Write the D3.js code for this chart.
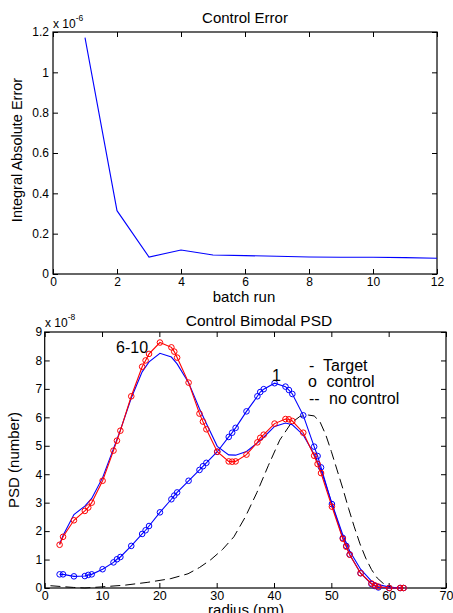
<!DOCTYPE html>
<html>
<head>
<meta charset="utf-8">
<script src="https://cdn.jsdelivr.net/npm/d3@7"></script>
<style>
  html,body{margin:0;padding:0;background:#fff;}
  svg{display:block;font-family:"Liberation Sans",Arial,sans-serif;}
  .ax text{font-size:12px;fill:#000;}
  .ax line{stroke:#000;}
</style>
</head>
<body>
<div id="chart"></div>
<script>
// top panel: integral absolute error per batch run (x 1e-6)
const batchRuns=[1,2,3,4,5,6,7,8,9,10,11,12];
const iaeValues=[1.172,0.314,0.084,0.119,0.094,0.091,0.088,0.084,0.083,0.083,0.081,0.078];

// bottom panel: PSD (x 1e-8) vs radius (nm)
const markerRadius=[2.6,3.2,5.1,7.0,7.6,8.2,10.1,12.0,12.6,13.2,15.1,17.0,17.6,18.2,20.1,22.1,22.6,23.1,25.1,27.0,27.6,28.2,30.1,32.1,32.7,33.3,35.2,37.1,37.6,38.2,40.1,42.0,42.6,43.2,45.1,47.0,47.6,48.2,50.1,52.0,52.6,53.2,55.1,57.0,57.6,58.2,60.1,62.0,62.6];
const controlRuns610=[1.52,1.80,2.38,2.71,2.83,3.0,3.77,4.83,5.18,5.53,6.74,7.78,8.0,8.23,8.63,8.46,8.31,8.1,7.22,6.13,5.85,5.58,4.79,4.45,4.44,4.45,4.69,5.12,5.28,5.39,5.78,5.94,5.93,5.87,5.46,4.65,4.36,4.04,2.86,1.73,1.45,1.17,0.52,0.16,0.09,0.05,0,0,0];
const controlRun1=[0.48,0.48,0.41,0.42,0.46,0.48,0.66,0.90,1.01,1.09,1.48,1.90,2.03,2.18,2.66,3.12,3.25,3.36,3.77,4.15,4.28,4.40,4.79,5.31,5.46,5.63,6.21,6.74,6.89,6.99,7.20,7.08,6.96,6.82,6.07,4.97,4.64,4.24,2.95,1.76,1.48,1.18,0.52,0.14,0.07,0.02,0,0,0];
const targetRadius=[2.6,3.2,5.1,7.0,8.2,10.1,12.0,13.2,15.1,17.0,18.2,20.1,22.1,23.1,25.1,27.0,28.2,30.1,32.1,33.3,35.2,37.1,38.2,40.1,42.0,43.2,45.1,47.0,48.2,50.1,52.0,53.2,55.1,57.0,58.2,60.1,62.0];
const targetPSD=[1.55,1.85,2.58,2.88,3.15,3.88,4.9,5.55,6.68,7.6,7.95,8.25,8.12,7.88,7.22,6.3,5.78,4.98,4.68,4.67,4.8,5.1,5.3,5.68,5.8,5.74,5.38,4.7,4.15,2.97,1.87,1.3,0.66,0.24,0.12,0.03,0];
const noCtrlRadius=[1,3,5,7,10,14,18,22,25,27,29,31,33,35,37,39,41,43,44.5,46,47,48,49,50,51,52,53,54,55,56,57,58,59,60,61];
const noCtrlPSD=[0.08,0.05,0.02,0,0.04,0.1,0.2,0.33,0.5,0.72,1.0,1.35,1.8,2.5,3.35,4.3,5.2,5.8,6.03,6.08,6.05,5.85,5.4,4.8,4.15,3.5,2.8,2.15,1.55,1.05,0.65,0.35,0.17,0.06,0];

const W=453,H=613;
const svg=d3.select('#chart').append('svg').attr('width',W).attr('height',H);

function frame(g,x,y,w,h,o){
  g.append('g').attr('class','ax').attr('transform',`translate(0,${h})`)
    .call(d3.axisBottom(x).tickValues(o.xTicks).tickSize(-5).tickPadding(o.xPad).tickFormat(o.xFmt))
    .call(a=>a.select('.domain').remove()).selectAll('text').style('font-size',o.xFont+'px');
  g.append('g').attr('class','ax')
    .call(d3.axisTop(x).tickValues(o.xTicks).tickSize(-5).tickFormat(''))
    .call(a=>a.select('.domain').remove());
  g.append('g').attr('class','ax')
    .call(d3.axisLeft(y).tickValues(o.yTicks).tickSize(-5).tickPadding(o.yPad).tickFormat(o.yFmt))
    .call(a=>a.select('.domain').remove());
  g.append('g').attr('class','ax').attr('transform',`translate(${w},0)`)
    .call(d3.axisRight(y).tickValues(o.yTicks).tickSize(-5).tickFormat(''))
    .call(a=>a.select('.domain').remove());
  g.append('rect').attr('width',w).attr('height',h).attr('fill','none').attr('stroke','#000').attr('stroke-width',1.2);
}

// ---- top panel ----
{
  const m={l:53,t:32},w=437-53,h=274-32;
  const g=svg.append('g').attr('transform',`translate(${m.l},${m.t})`);
  const x=d3.scaleLinear().domain([0,12]).range([0,w]);
  const y=d3.scaleLinear().domain([0,1.2]).range([h,0]);
  frame(g,x,y,w,h,{xTicks:d3.range(0,13,2),yTicks:[0,0.2,0.4,0.6,0.8,1,1.2],
    xFmt:d3.format('d'),yFmt:d=>d===0?'0':d3.format('.1~f')(d),xFont:12,xPad:3.5,yPad:4});
  const pts=batchRuns.map((b,i)=>[b,iaeValues[i]]);
  g.append('path').datum(pts).attr('fill','none').attr('stroke','#0000ff').attr('stroke-width',1.1)
    .attr('d',d3.line().x(d=>x(d[0])).y(d=>y(d[1])));
  svg.append('text').attr('x',245).attr('y',23).attr('text-anchor','middle').attr('font-size',15).text('Control Error');
  svg.append('text').attr('x',244).attr('y',301.5).attr('text-anchor','middle').attr('font-size',15).text('batch run');
  svg.append('text').attr('transform','translate(22,150) rotate(-90)').attr('text-anchor','middle').attr('font-size',14.5).text('Integral Absolute Error');
  const ex=svg.append('text').attr('x',53).attr('y',28).attr('font-size',12);
  ex.append('tspan').text('x 10');
  ex.append('tspan').attr('dy',-7).attr('font-size',8.5).text('-6');
}

// ---- bottom panel ----
{
  const m={l:44.7,t:332},w=446-44.7,h=588-332;
  const g=svg.append('g').attr('transform',`translate(${m.l},${m.t})`);
  const x=d3.scaleLinear().domain([0,70]).range([0,w]);
  const y=d3.scaleLinear().domain([0,9]).range([h,0]);
  frame(g,x,y,w,h,{xTicks:d3.range(0,71,10),yTicks:d3.range(0,10),
    xFmt:d3.format('d'),yFmt:d3.format('d'),xFont:12.5,xPad:3,yPad:2.5});
  const line=d3.line().x(d=>x(d[0])).y(d=>y(d[1]));
  // no control (dashed)
  g.append('path').datum(noCtrlRadius.map((r,i)=>[r,noCtrlPSD[i]]))
    .attr('fill','none').attr('stroke','#000').attr('stroke-width',1).attr('stroke-dasharray','10,5').attr('d',line);
  // target (blue, no markers)
  g.append('path').datum(targetRadius.map((r,i)=>[r,targetPSD[i]]))
    .attr('fill','none').attr('stroke','#0000ff').attr('stroke-width',1.1).attr('d',line);
  // controlled runs with markers
  [[controlRun1,'#0000ff'],[controlRuns610,'#ff0000']].forEach(([vals,col])=>{
    const pts=markerRadius.map((r,i)=>[r,vals[i]]);
    g.append('path').datum(pts).attr('fill','none').attr('stroke',col).attr('stroke-width',1.1).attr('d',line);
    g.selectAll(null).data(pts).join('circle')
      .attr('cx',d=>x(d[0])).attr('cy',d=>y(d[1])).attr('r',2.8)
      .attr('fill','none').attr('stroke',col).attr('stroke-width',1);
  });
  svg.append('text').attr('x',259).attr('y',326).attr('text-anchor','middle').attr('font-size',15.5).text('Control Bimodal PSD');
  svg.append('text').attr('x',246).attr('y',615).attr('text-anchor','middle').attr('font-size',15).text('radius (nm)');
  svg.append('text').attr('transform','translate(19,460) rotate(-90)').attr('text-anchor','middle').attr('font-size',15).text('PSD (number)');
  const ex=svg.append('text').attr('x',45).attr('y',327).attr('font-size',12);
  ex.append('tspan').text('x 10');
  ex.append('tspan').attr('dy',-7).attr('font-size',8.5).text('-8');
  // annotations
  svg.append('text').attr('x',116).attr('y',353).attr('font-size',16).text('6-10');
  svg.append('text').attr('x',272).attr('y',381).attr('font-size',16).text('1');
  const leg=[['-',309,'Target',323,371],['o',308,'control',326.5,387],['--',309,'no control',329,404]];
  leg.forEach(([s,sx,t,tx,ty])=>{
    svg.append('text').attr('x',sx).attr('y',ty).attr('font-size',16).text(s);
    svg.append('text').attr('x',tx).attr('y',ty).attr('font-size',16).text(t);
  });
}
</script>
</body>
</html>
